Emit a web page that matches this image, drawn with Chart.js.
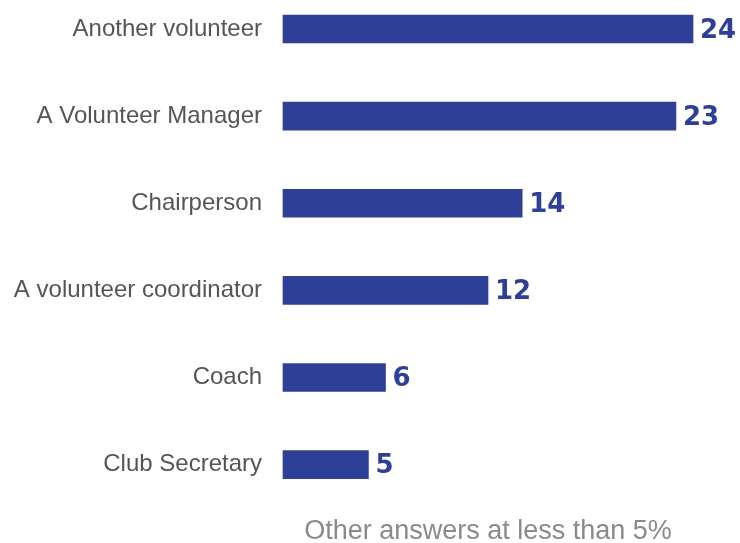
<!DOCTYPE html>
<html>
<head>
<meta charset="utf-8">
<script src="https://cdn.jsdelivr.net/npm/chart.js@4/dist/chart.umd.min.js"></script>
<style>
  html, body { margin: 0; padding: 0; background: #fff; }
  #wrap { width: 740px; height: 543px; }
</style>
</head>
<body>
<div id="wrap"><canvas id="chart"></canvas></div>
<script>
// who the volunteers report to (%)
const categories = [
  "Another volunteer",
  "A Volunteer Manager",
  "Chairperson",
  "A volunteer coordinator",
  "Coach",
  "Club Secretary",
];
const values = [24, 23, 14, 12, 6, 5];
const footerText = "Other answers at less than 5%";

const barColor = "#2e3f98";

// draws the number just right of each bar
const valueLabels = {
  id: "valueLabels",
  afterDatasetsDraw(chart) {
    const ctx = chart.ctx;
    const meta = chart.getDatasetMeta(0);
    ctx.save();
    ctx.font = "bold 26px 'DejaVu Sans', sans-serif";
    ctx.fillStyle = barColor;
    ctx.textAlign = "left";
    ctx.textBaseline = "middle";
    meta.data.forEach((bar, i) => {
      ctx.fillText(String(values[i]), bar.x + 7, bar.y + 2);
    });
    ctx.restore();
  },
};

const canvas = document.getElementById("chart");
canvas.chart = new Chart(canvas.getContext("2d"), {
  type: "bar",
  data: {
    labels: categories,
    datasets: [
      {
        data: values,
        backgroundColor: barColor,
        barThickness: 28,
        clip: false,
      },
    ],
  },
  options: {
    indexAxis: "y",
    responsive: true,
    maintainAspectRatio: false,
    animation: false,
    layout: {
      padding: { top: 29, right: 47, bottom: 0, left: 0 },
    },
    plugins: {
      legend: { display: false },
      tooltip: { enabled: false },
      title: {
        display: true,
        position: "bottom",
        fullSize: false,
        text: footerText,
        color: "#8a8a8a",
        font: { family: "'Liberation Sans', Arial, sans-serif", size: 27, weight: "normal" },
        padding: { top: 51, bottom: -5 },
      },
    },
    scales: {
      x: {
        display: false,
        min: 0,
        max: 24,
      },
      y: {
        offset: false,
        grid: { display: false, drawTicks: false },
        border: { display: false },
        ticks: {
          color: "#555",
          padding: 21,
          font: { family: "'Liberation Sans', Arial, sans-serif", size: 24 },
        },
        afterFit: (scale) => {
          // fixed label column, no extra room for label overflow
          scale.width = 283;
          scale.paddingTop = 0;
          scale.paddingBottom = 0;
        },
      },
    },
  },
  plugins: [valueLabels],
});
</script>
</body>
</html>
